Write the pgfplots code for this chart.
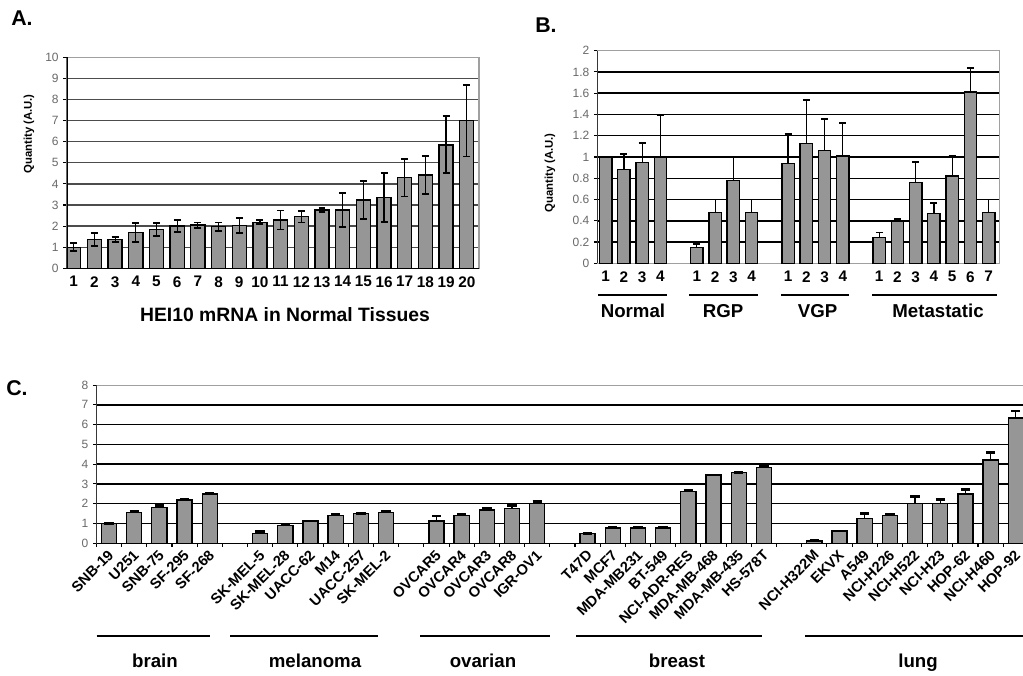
\documentclass[border=0pt]{standalone}
\usepackage{pgfplots}
\pgfplotsset{compat=1.18}
\usepackage{fontspec}
\setmainfont{Liberation Sans}
\definecolor{barfill}{RGB}{150,150,150}
\definecolor{ticktext}{RGB}{105,105,105}
\definecolor{bordergray}{RGB}{160,160,160}
\pgfplotsset{
  panel/.style={
    anchor=south west, scale only axis,
    axis line style={bordergray, line width=0.8pt},
    ytick style={black, line width=0.8pt}, major tick length=2.5pt,
    tick align=outside, tick pos=left,
    yticklabel style={font=\fontsize{9}{9}\selectfont, text=ticktext},
    /pgf/number format/assume math mode=true,
    extra y tick style={grid=none},
  },
  barplot/.style={ybar, bar width=0.68, fill=barfill, draw=black, line width=1pt,
    error bars/y explicit,
    error bars/error bar style={black, line width=0.9pt},
    error bars/error mark options={black, rotate=90, mark size=2.6pt, line width=1.4pt}},
}
\begin{document}
\begin{tikzpicture}
\useasboundingbox (0,0) rectangle (767.25pt,506.25pt);
\fill[white] (0,0) rectangle (767.25pt,506.25pt);

% ---------------- Panel A ----------------
\begin{axis}[panel,
  at={(50.03pt,305.03pt)},
  width=309.2pt, height=158.25pt,
  xmin=0.66, xmax=20.59, ymin=0, ymax=10,
  ytick={1,2,3,4,5,6,7,8,9}, extra y ticks={0,10},
  xtick={1,...,20},
  xtick style={draw=none},
  ymajorgrids, grid style={black!70, line width=1pt},
  xticklabel style={font=\bfseries\fontsize{11.5}{11.5}\selectfont},
]
\addplot[barplot, error bars/y dir=both] table[x=x, y=y, y error=e] {
x y e
1 1.00 0.20
2 1.37 0.32
3 1.37 0.12
4 1.70 0.45
5 1.85 0.30
6 2.00 0.28
7 2.05 0.12
8 1.97 0.20
9 2.02 0.35
10 2.18 0.10
11 2.29 0.45
12 2.45 0.28
13 2.76 0.10
14 2.76 0.80
15 3.24 0.90
16 3.35 1.15
17 4.30 0.90
18 4.42 0.90
19 5.85 1.35
20 7.00 1.70
};
\draw[black, line width=1.3pt] (rel axis cs:0,0) -- (rel axis cs:0,1);
\draw[black, line width=1pt] (rel axis cs:0,0) -- (rel axis cs:1,0);
\end{axis}

% ---------------- Panel B ----------------
\begin{axis}[panel,
  at={(447.98pt,308.78pt)},
  width=301.3pt, height=159.45pt,
  xmin=-0.46, xmax=21.57, ymin=0, ymax=2,
  ytick={0.2,0.4,0.6,0.8,1,1.2,1.4,1.6,1.8}, extra y ticks={0,2},
  xtick={0,1,2,3,5,6,7,8,10,11,12,13,15,16,17,18,19,20,21},
  xticklabels={1,2,3,4,1,2,3,4,1,2,3,4,1,2,3,4,5,6,7},
  xtick style={draw=none},
  ymajorgrids, grid style={black, line width=1.1pt},
  xticklabel style={font=\bfseries\fontsize{11.5}{11.5}\selectfont},
]
\addplot[barplot, error bars/y dir=plus] table[x=x, y=y, y error=e] {
x y e
0 1.00 0.00
1 0.88 0.15
2 0.95 0.18
3 1.00 0.39
5 0.15 0.03
6 0.48 0.12
7 0.78 0.22
8 0.48 0.12
10 0.94 0.28
11 1.13 0.41
12 1.06 0.30
13 1.01 0.31
15 0.24 0.05
16 0.39 0.03
17 0.76 0.19
18 0.47 0.10
19 0.82 0.19
20 1.61 0.23
21 0.48 0.12
};
\draw[black, line width=1.3pt] (rel axis cs:0,0) -- (rel axis cs:0,1);
\end{axis}

% ---------------- Panel C ----------------
\begin{axis}[panel,
  at={(72.3pt,98.78pt)},
  width=699pt, height=118.7pt,
  xmin=-0.5, xmax=36.5, ymin=0, ymax=8,
  ytick={1,2,3,4,5,6,7}, extra y ticks={0,8},
  xtick={-0.5,0.5,...,36.5}, xticklabels={},
  xtick style={black, line width=0.8pt},
  extra x ticks={0,1,2,3,4,6,7,8,9,10,11,13,14,15,16,17,19,20,21,22,23,24,25,26,28,29,30,31,32,33,34,35,36},
  extra x tick labels={SNB-19,U251,SNB-75,SF-295,SF-268,SK-MEL-5,SK-MEL-28,UACC-62,M14,UACC-257,SK-MEL-2,OVCAR5,OVCAR4,OVCAR3,OVCAR8,IGR-OV1,T47D,MCF7,MDA-MB231,BT-549,NCI-ADR-RES,MDA-MB-468,MDA-MB-435,HS-578T,NCI-H322M,EKVX,A549,NCI-H226,NCI-H522,NCI-H23,HOP-62,NCI-H460,HOP-92},
  extra x tick style={major tick length=0pt},
  xticklabel style={font=\bfseries\fontsize{11}{11}\selectfont, rotate=45, anchor=east, xshift=-0.5pt, yshift=-6pt},
  ymajorgrids, grid style={black, line width=1.1pt},
]
\addplot[barplot, bar width=0.6, error bars/y dir=plus, error bars/error mark options={black, rotate=90, mark size=3.5pt, line width=2pt}] table[x=x, y=y, y error=e] {
x y e
0 1.00 0.00
1 1.55 0.08
2 1.80 0.12
3 2.19 0.05
4 2.49 0.06
6 0.50 0.10
7 0.89 0.03
8 1.13 0.00
9 1.40 0.08
10 1.52 0.00
11 1.55 0.08
13 1.13 0.25
14 1.40 0.08
15 1.68 0.08
16 1.77 0.15
17 2.02 0.08
19 0.50 0.00
20 0.78 0.02
21 0.78 0.02
22 0.78 0.02
23 2.62 0.06
24 3.45 0.00
25 3.58 0.00
26 3.84 0.08
28 0.12 0.02
29 0.62 0.00
30 1.26 0.25
31 1.40 0.08
32 2.02 0.35
33 2.00 0.22
34 2.49 0.24
35 4.21 0.38
36 6.34 0.35
};
\draw[black, line width=1.3pt] (rel axis cs:0,0) -- (rel axis cs:0,1);
\draw[black, line width=1.1pt] (rel axis cs:0,0) -- (rel axis cs:1,0);
\end{axis}

% ---------------- Annotations ----------------
\begin{scope}[x=0.75pt,y=0.75pt]
\node[anchor=base, font=\bfseries\fontsize{16}{16}\selectfont] at (22,649) {A.};
\node[anchor=base, font=\bfseries\fontsize{16}{16}\selectfont] at (546,642) {B.};
\node[anchor=base, font=\bfseries\fontsize{16}{16}\selectfont] at (17,280) {C.};
\node[rotate=90, font=\bfseries\fontsize{8.5}{8.5}\selectfont] at (29,541) {Quantity (A.U.)};
\node[rotate=90, font=\bfseries\fontsize{8.5}{8.5}\selectfont] at (550,502) {Quantity (A.U.)};
\node[anchor=base, font=\bfseries\fontsize{14.5}{14.5}\selectfont] at (285,353.3) {HEI10 mRNA in Normal Tissues};
% B groups
\draw[line width=1.5pt] (598,380) -- (667,380);
\draw[line width=1.5pt] (689,380) -- (758,380);
\draw[line width=1.5pt] (781,380) -- (849,380);
\draw[line width=1.5pt] (872,380) -- (997,380);
\node[anchor=base, font=\bfseries\fontsize{14}{14}\selectfont] at (633,357) {Normal};
\node[anchor=base, font=\bfseries\fontsize{14}{14}\selectfont] at (723,357) {RGP};
\node[anchor=base, font=\bfseries\fontsize{14}{14}\selectfont] at (817.5,357) {VGP};
\node[anchor=base, font=\bfseries\fontsize{14}{14}\selectfont] at (938,357) {Metastatic};
% C groups
\draw[line width=1.5pt] (96.7,39.3) -- (210,39.3);
\draw[line width=1.5pt] (230,39.3) -- (377.7,39.3);
\draw[line width=1.5pt] (420,39.3) -- (550,39.3);
\draw[line width=1.5pt] (576,39.3) -- (762,39.3);
\draw[line width=1.5pt] (805,39.3) -- (1030,39.3);
\node[anchor=base, font=\bfseries\fontsize{14}{14}\selectfont] at (155,8) {brain};
\node[anchor=base, font=\bfseries\fontsize{14}{14}\selectfont] at (315,8) {melanoma};
\node[anchor=base, font=\bfseries\fontsize{14}{14}\selectfont] at (483,8) {ovarian};
\node[anchor=base, font=\bfseries\fontsize{14}{14}\selectfont] at (677,8) {breast};
\node[anchor=base, font=\bfseries\fontsize{14}{14}\selectfont] at (918,8) {lung};
\end{scope}
\end{tikzpicture}
\end{document}
